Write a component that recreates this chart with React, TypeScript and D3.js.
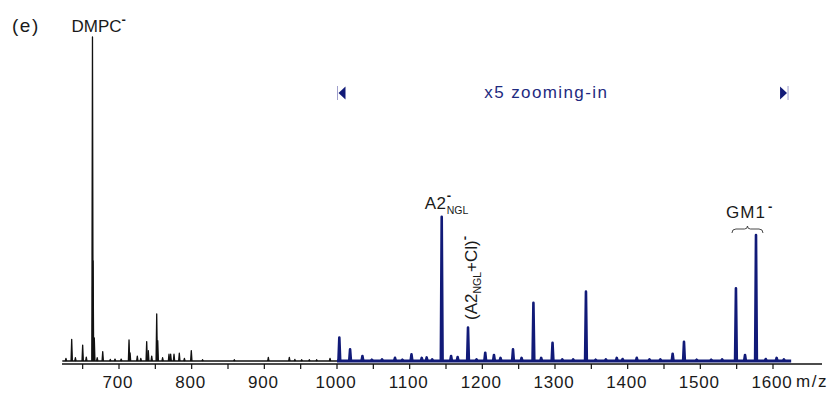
import React from 'react';
import * as d3 from 'd3';

// survey spectrum (black), m/z and relative intensity (%)
const blackMz = [627, 634.9, 640, 650.0, 655, 663.5, 664.3, 666.0, 670, 677.6, 688, 694.5, 703, 713.8, 715.2,
  725.2, 730, 738.1, 740.3, 745, 751.9, 753.3, 760, 768.8, 771.1, 775.7, 783.0, 790, 799.5, 815.0, 858.7,
  905.5, 934.4, 942.0, 951.4, 961.9, 972.0, 990.4];
const blackInt = [0.8, 6.7, 1.0, 4.9, 1.2, 100, 30.9, 7.1, 1.0, 2.9, 0.5, 0.6, 0.6, 6.5, 2.5,
  1.5, 0.8, 6.0, 3.2, 1.5, 14.5, 6.3, 1.0, 2.1, 2.1, 2.1, 2.4, 0.8, 3.2, 0.4, 0.4,
  1.1, 1.1, 0.5, 0.4, 0.4, 0.4, 0.8];

// high mass range (blue), real intensity, drawn x5
const blueMz = [1003.2, 1018.0, 1035.0, 1048, 1062, 1079.8, 1090, 1102.5, 1116.6, 1123.4, 1131, 1144.1, 1157.0,
  1166.0, 1180.3, 1192, 1204.0, 1216.0, 1225.0, 1242.2, 1254.0, 1270.3, 1281.0, 1296.6, 1310, 1325, 1342.6,
  1356, 1370, 1385.0, 1393, 1412.5, 1430, 1445, 1461.9, 1477.5, 1495, 1515, 1530, 1549.0, 1561.5, 1576.6,
  1590, 1605.0, 1615];
const blueInt = [1.44, 0.72, 0.31, 0.08, 0.1, 0.2, 0.08, 0.41, 0.19, 0.22, 0.1, 8.9, 0.31,
  0.25, 2.06, 0.1, 0.51, 0.37, 0.19, 0.72, 0.19, 3.6, 0.19, 1.13, 0.1, 0.1, 4.28,
  0.08, 0.1, 0.19, 0.12, 0.2, 0.1, 0.1, 0.45, 1.19, 0.08, 0.08, 0.1, 4.49, 0.37, 7.78,
  0.12, 0.19, 0.1];
const zoomFactor = 5;

const majorTicks = [700, 800, 900, 1000, 1100, 1200, 1300, 1400, 1500, 1600];
const minorTicks = [650, 750, 850, 950, 1050, 1150, 1250, 1350, 1450, 1550];

const W = 830, H = 394;
const NAVY = '#111a78';
const FONT = 'Arial, "Liberation Sans", sans-serif';

const App: React.FC = () => {
  const x = d3.scaleLinear().domain([700, 1600]).range([119, 773]);
  const y = d3.scaleLinear().domain([0, 100]).range([361, 37]);
  const line = d3.line<[number, number]>().x(d => x(d[0])).y(d => y(d[1]));

  const spike = (m: number, h: number, w: number) =>
    line([[m - w, 0], [m, h], [m + w, 0]]) as string;

  const axisY = 364;
  const txt = { fontFamily: FONT, fill: '#1a1a1a' };

  const xCl = x(1180.3);
  const xA2 = x(1144.1);
  const xGm = (x(1549) + x(1576.6)) / 2;
  const braceY = 229;
  const b1 = x(1549) - 4, b2 = x(1576.6) + 7;
  const bm = (b1 + b2) / 2;
  const brace = `M${b1},${braceY + 4} Q${b1},${braceY} ${b1 + 4},${braceY} L${bm - 3},${braceY} Q${bm},${braceY} ${bm},${braceY - 3} Q${bm},${braceY} ${bm + 3},${braceY} L${b2 - 4},${braceY} Q${b2},${braceY} ${b2},${braceY + 4}`;

  const zl = x(1000), zr = x(1620), zy = 93;

  return (
    <svg width={W} height={H} style={{ position: 'absolute', left: 0, top: 0, background: '#fff' }}>
      {/* black spectrum */}
      <path d={line([[622, 0], [1000, 0]]) as string} stroke="#111" strokeWidth={1.5} fill="none" />
      {blackMz.map((m, i) => (
        <path key={'b' + i} d={spike(m, blackInt[i], 0.9)} stroke="#111" strokeWidth={1.3}
          strokeLinejoin="round" fill="#111" />
      ))}
      {/* blue x5 spectrum */}
      <path d={line([[1000, 0], [1625, 0]]) as string} stroke={NAVY} strokeWidth={2.8} fill="none" />
      {blueMz.map((m, i) => (
        <path key={'z' + i} d={spike(m, blueInt[i] * zoomFactor, 1.2)} stroke={NAVY} strokeWidth={2.6}
          strokeLinejoin="round" fill={NAVY} />
      ))}

      {/* axis */}
      <line x1={62} x2={822} y1={axisY} y2={axisY} stroke="#111" strokeWidth={1.4} />
      {[...majorTicks, ...minorTicks].map(t => (
        <line key={'t' + t} x1={x(t)} x2={x(t)} y1={axisY} y2={axisY + 5} stroke="#111" strokeWidth={1.2} />
      ))}
      {majorTicks.map(t => (
        <text key={'l' + t} x={x(t) - 1} y={388} textAnchor="middle" fontSize={17} letterSpacing={0.8} {...txt}>{t}</text>
      ))}
      <text x={796} y={387} fontSize={17} letterSpacing={1.6} {...txt}>m/z</text>

      {/* panel label and annotations */}
      <text x={12} y={32} fontSize={19} letterSpacing={1.5} {...txt}>(e)</text>
      <text x={x(663.5) - 21} y={32} fontSize={17} {...txt}>DMPC</text>
      <text x={x(663.5) + 29} y={24} fontSize={13} fontWeight="bold" {...txt}>-</text>

      <text x={xA2 - 17} y={209} fontSize={17} letterSpacing={0.5} {...txt}>A2</text>
      <text x={xA2 + 5} y={200} fontSize={13} fontWeight="bold" {...txt}>-</text>
      <text x={xA2 + 5} y={214} fontSize={10.5} {...txt}>NGL</text>

      <g transform={`translate(${xCl + 8.5},320) rotate(-90)`}>
        <text x={0} y={0} fontSize={17} {...txt}>
          <tspan>(A2</tspan>
          <tspan fontSize={10.5} dy={4}>NGL</tspan>
          <tspan dy={-4}>+Cl)</tspan>
          <tspan fontSize={13} fontWeight="bold" dy={-8}>-</tspan>
        </text>
      </g>

      <path d={brace} stroke="#333" strokeWidth={0.9} fill="none" />
      <text x={xGm + 20} y={218} textAnchor="end" fontSize={17} letterSpacing={1} {...txt}>GM1</text>
      <text x={xGm + 22} y={211} fontSize={13} fontWeight="bold" {...txt}>-</text>

      {/* zoom range marker */}
      <line x1={zl + 0.5} x2={zl + 0.5} y1={86} y2={100} stroke="#a0a0cc" strokeWidth={1} />
      <path d={`M${zl + 1.5},${zy} L${zl + 8.5},${zy - 6.5} L${zl + 8.5},${zy + 6.5} Z`} fill={NAVY} />
      <line x1={zr + 0.5} x2={zr + 0.5} y1={86} y2={100} stroke="#a0a0cc" strokeWidth={1} />
      <path d={`M${zr - 0.5},${zy} L${zr - 7.5},${zy - 6.5} L${zr - 7.5},${zy + 6.5} Z`} fill={NAVY} />
      <text x={x(1288)} y={98} textAnchor="middle" fontSize={17} letterSpacing={1.4}
        fontFamily={FONT} fill="#1e2a80">x5 zooming-in</text>
    </svg>
  );
};

export default App;
